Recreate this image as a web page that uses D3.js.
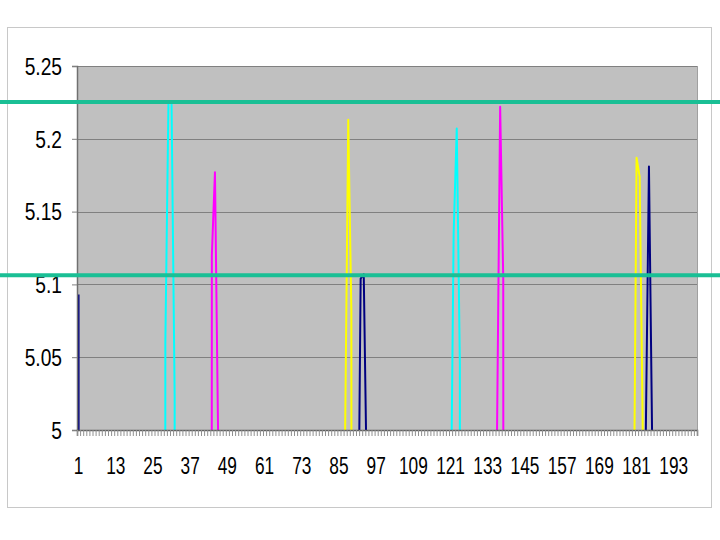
<!DOCTYPE html>
<html>
<head>
<meta charset="utf-8">
<style>
  body { margin: 0; background: #fff; }
  text { font-family: "Liberation Sans", Arial, sans-serif; fill: #000; }
</style>
</head>
<body>
<script src="https://d3js.org/d3.v7.min.js"></script>
<script>
  // category count and tick labels
  const nCats = 200
  const xTicks = [1, 13, 25, 37, 49, 61, 73, 85, 97, 109, 121, 133, 145, 157, 169, 181, 193]
  const yTicks = [5, 5.05, 5.1, 5.15, 5.2, 5.25]

  // series as [category, value]; values outside the spikes sit far under the axis
  const navy = [[1, 5.093], [2, 0], [90, 0], [91, 4.86], [92, 5.104], [93, 5.107], [94, 4.96], [95, 0],
    [183, 0], [184, 5.0], [185, 5.181], [186, 5.0], [187, 0]]
  const magenta = [[43, 0], [44, 5.12], [45, 5.177], [46, 5.0], [47, 0],
    [135, 0], [136, 5.0], [137, 5.222], [138, 5.104], [139, 0]]
  const yellow = [[86, 0], [87, 5.0], [88, 5.213], [89, 5.082], [90, 0],
    [179, 0], [180, 4.9], [181, 5.187], [182, 5.174], [183, 5.0], [184, 0]]
  const cyan = [[28, 0], [29, 5.06], [30, 5.225], [31, 5.225], [32, 5.023], [33, 0],
    [120, 0], [121, 4.92], [122, 5.135], [123, 5.207], [124, 5.045], [125, 0]]

  // the two green marker lines
  const markers = [5.2252, 5.1062]

  const series = [
    { data: navy, color: '#000080' },
    { data: magenta, color: '#ff00ff' },
    { data: yellow, color: '#ffff00' },
    { data: cyan, color: '#00ffff' }
  ]

  const width = 720
  const height = 540
  const plot = { left: 77, right: 697, top: 66, bottom: 430 }

  const svg = d3.select('body').append('svg')
    .attr('width', width)
    .attr('height', height)

  // chart frame
  svg.append('rect')
    .attr('x', 7.5).attr('y', 27.5)
    .attr('width', 704).attr('height', 480)
    .attr('fill', '#fff')
    .attr('stroke', '#c8c8c8')

  const x = d3.scaleLinear().domain([0.5, nCats + 0.5]).range([plot.left, plot.right])
  const y = d3.scaleLinear().domain([5, 5.25]).range([plot.bottom, plot.top])

  // plot area
  svg.append('rect')
    .attr('x', plot.left).attr('y', plot.top)
    .attr('width', plot.right - plot.left).attr('height', plot.bottom - plot.top)
    .attr('fill', '#c0c0c0')

  // gridlines
  svg.append('g')
    .selectAll('line')
    .data(yTicks.slice(1))
    .enter().append('line')
    .attr('x1', plot.left).attr('x2', plot.right)
    .attr('y1', d => Math.round(y(d)) + 0.5).attr('y2', d => Math.round(y(d)) + 0.5)
    .attr('stroke', '#808080')

  svg.append('line')
    .attr('x1', plot.right + 0.5).attr('x2', plot.right + 0.5)
    .attr('y1', plot.top).attr('y2', plot.bottom)
    .attr('stroke', '#a0a0a0')

  // lines, clipped to the plot area
  svg.append('clipPath').attr('id', 'clip')
    .append('rect')
    .attr('x', plot.left).attr('y', plot.top)
    .attr('width', plot.right - plot.left).attr('height', plot.bottom - plot.top)

  const line = d3.line()
    .x(d => x(d[0]))
    .y(d => y(d[1]))

  svg.append('g')
    .attr('clip-path', 'url(#clip)')
    .selectAll('path')
    .data(series)
    .enter().append('path')
    .attr('d', d => line(d.data))
    .attr('fill', 'none')
    .attr('stroke', d => d.color)
    .attr('stroke-width', 2)
    .attr('stroke-linejoin', 'round')

  // y axis
  const yAxis = svg.append('g')
    .attr('transform', `translate(${plot.left},0)`)
    .call(d3.axisLeft(y).tickValues(yTicks).tickSize(5).tickFormat(d3.format('')))
  yAxis.select('.domain').attr('stroke', '#707070').attr('stroke-width', 1.5)
  yAxis.selectAll('.tick line').attr('stroke', '#808080')
  yAxis.selectAll('.tick text')
    .attr('x', 0).attr('dy', null)
    .attr('dominant-baseline', 'central')
    .attr('transform', 'translate(-15,0) scale(0.8,1)')
    .style('font-size', '24px')
    .attr('fill', '#000')

  // x axis: minor ticks at category boundaries
  const xMinor = svg.append('g')
    .attr('transform', `translate(0,${plot.bottom})`)
    .call(d3.axisBottom(x).tickValues(d3.range(0.5, nCats + 1, 1)).tickSize(6).tickFormat(''))
  xMinor.select('.domain').attr('stroke', '#606060').attr('stroke-width', 1.5)
  xMinor.selectAll('.tick line').attr('stroke', '#909090')

  // x labels
  svg.append('g')
    .selectAll('text')
    .data(xTicks)
    .enter().append('text')
    .attr('transform', d => `translate(${x(d)},474) scale(0.72,1)`)
    .attr('text-anchor', 'middle')
    .style('font-size', '24px')
    .text(d => d)

  // green marker lines across the whole picture
  svg.append('g')
    .selectAll('line')
    .data(markers)
    .enter().append('line')
    .attr('x1', 0).attr('x2', width)
    .attr('y1', d => y(d)).attr('y2', d => y(d))
    .attr('stroke', '#1abf95')
    .attr('stroke-width', 4)
</script>
</body>
</html>
